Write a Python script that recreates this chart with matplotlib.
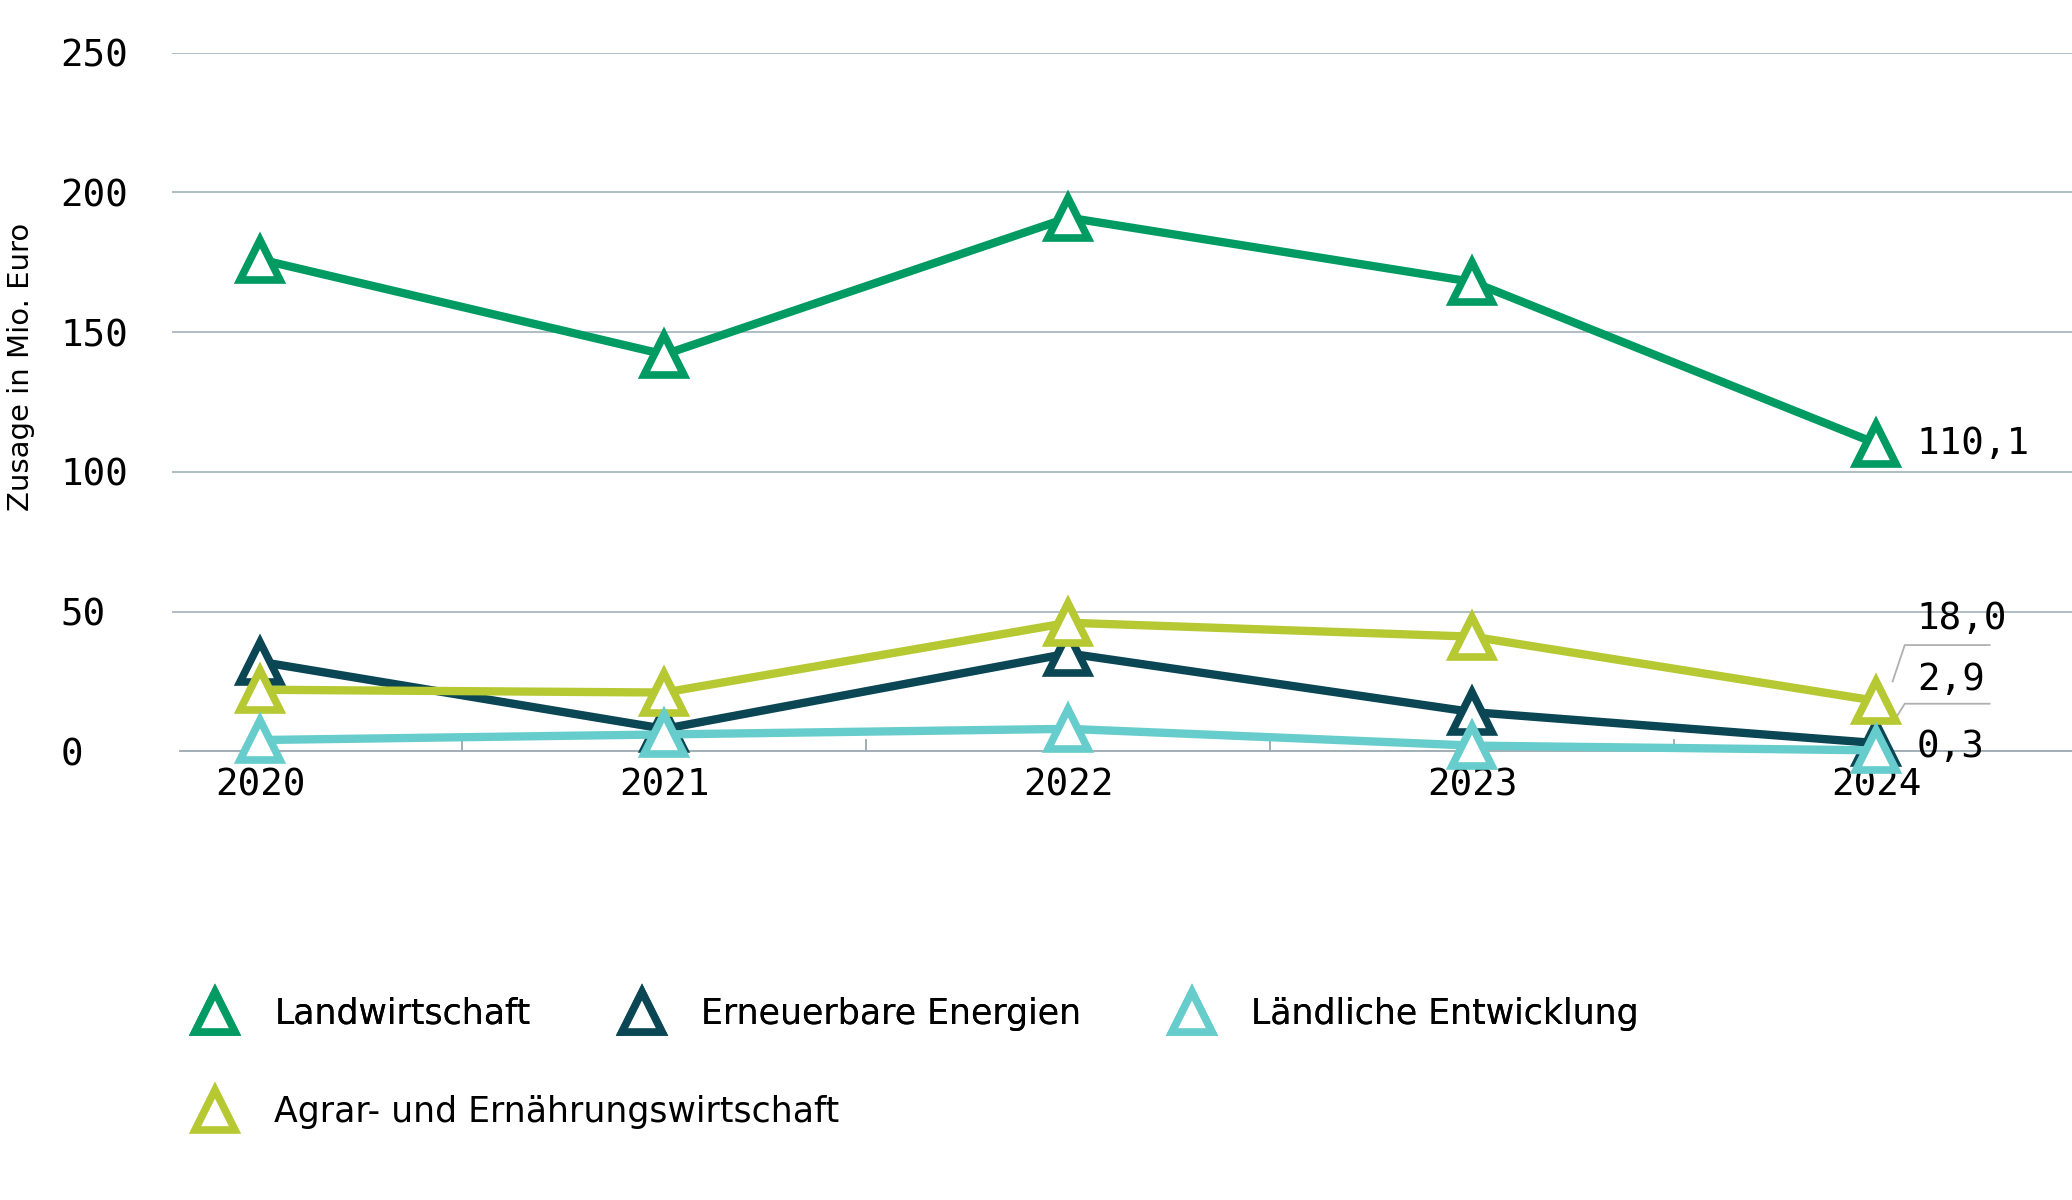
import matplotlib.pyplot as plt
from matplotlib.lines import Line2D

years = [2020, 2021, 2022, 2023, 2024]
landwirtschaft = [176, 142, 191, 168, 110.1]
erneuerbare = [32, 8, 35, 14, 2.9]
laendliche = [4, 6, 8, 2, 0.3]
agrar = [22, 21, 46, 41, 18.0]
names = ["Landwirtschaft", "Erneuerbare Energien", "Ländliche Entwicklung",
         "Agrar- und Ernährungswirtschaft"]
colors = ["#009b62", "#0b4654", "#66cdcc", "#b6c933"]

fig = plt.figure(figsize=(20.72, 12), dpi=100)
ax = fig.add_axes([0.083, 0.374, 0.917, 0.582])
ax.set_xlim(2020 - 0.219, 2024 + 0.484)
ax.set_ylim(0, 250)

for y in [50, 100, 150, 200, 250]:
    ax.axhline(y, color="#a9b8c0", lw=1.3, zorder=0)
ax.plot([2020 - 0.2, 2024 + 0.484], [0, 0], color="#9aa8b0", lw=1.3, zorder=0, clip_on=False)
for xm in [2020.5, 2021.5, 2022.5, 2023.5]:
    ax.plot([xm, xm], [0, 4], color="#9aa8b0", lw=1.3, zorder=0)

series = [landwirtschaft, erneuerbare, agrar, laendliche]
scol = [colors[0], colors[1], colors[3], colors[2]]
for vals, c in zip(series, scol):
    ax.plot(years, vals, color=c, lw=6, marker="^", markersize=29,
            markerfacecolor="white", markeredgecolor=c, markeredgewidth=5.5,
            clip_on=False, zorder=3)

mono = "DejaVu Sans Mono"
ax.text(2024.1, 110.1, "110,1", fontsize=27, family=mono, va="center")
ax.text(2024.1, 47.5, "18,0", fontsize=27, family=mono, va="center")
ax.text(2024.1, 25.5, "2,9", fontsize=27, family=mono, va="center")
ax.text(2024.1, 1.5, "0,3", fontsize=27, family=mono, va="center")
lc = "#b0b0b0"
ax.plot([2024.04, 2024.07, 2024.28], [25, 38, 38], color=lc, lw=1.3, clip_on=False)
ax.plot([2024.04, 2024.07, 2024.28], [10, 17, 17], color=lc, lw=1.3, clip_on=False)

ax.set_xticks(years)
ax.set_xticklabels([str(y) for y in years], family=mono, fontsize=27)
ax.set_yticks([0, 50, 100, 150, 200, 250])
ax.set_yticklabels(["0", "50", "100", "150", "200", "250"], family=mono, fontsize=27)
ax.tick_params(length=0, pad=12)
for lab in ax.get_yticklabels():
    lab.set_horizontalalignment("left")
    lab.set_x(-0.05)
for s in ax.spines.values():
    s.set_visible(False)
ax.set_ylabel("Zusage in Mio. Euro", fontsize=21)
ax.yaxis.set_label_coords(-0.072, 0.55)

handles = [Line2D([], [], lw=0, marker="^", markersize=29, markerfacecolor="white",
                  markeredgecolor=c, markeredgewidth=5.5) for c in colors]
leg1 = fig.legend(handles[:3], names[:3], loc="center left", bbox_to_anchor=(0.072, 0.155),
                  ncol=3, frameon=False, fontsize=25, handletextpad=0.7,
                  columnspacing=2.2)
fig.add_artist(leg1)
fig.legend(handles[3:], names[3:], loc="center left", bbox_to_anchor=(0.072, 0.073),
           frameon=False, fontsize=25, handletextpad=0.7)

fig.savefig("out.png", dpi=100)
